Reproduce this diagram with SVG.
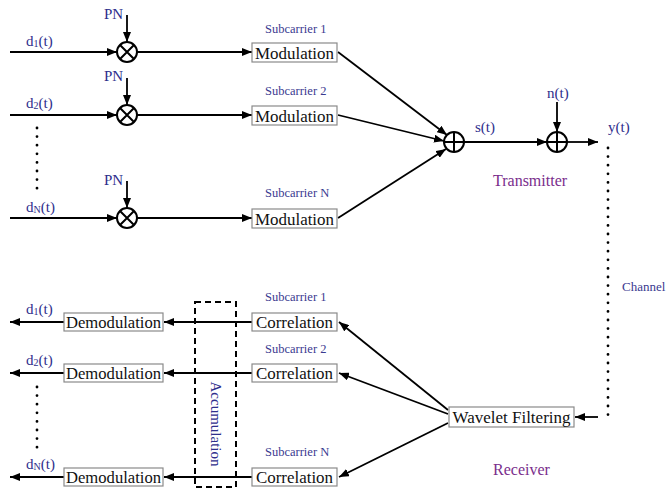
<svg xmlns="http://www.w3.org/2000/svg" width="667" height="491" viewBox="0 0 667 491">
<defs>
<marker id="ah" viewBox="0 0 10 8" refX="10" refY="4" markerWidth="10" markerHeight="8" markerUnits="userSpaceOnUse" orient="auto">
<path d="M0,0 L10,4 L0,8 Z" fill="#000"/>
</marker>
<style>
.ln{stroke:#000;stroke-width:1.8;fill:none;marker-end:url(#ah)}
.box{fill:#fff;stroke:#8a8a8a;stroke-width:1.2}
.bt{font-family:"Liberation Serif","Times New Roman",serif;font-size:17px;fill:#111;text-anchor:middle}
.lb{font-family:"Liberation Serif","Times New Roman",serif;font-size:15px;fill:#2e2e8c}
.sc{font-family:"Liberation Serif","Times New Roman",serif;font-size:12.5px;fill:#3a3a90}
.pu{font-family:"Liberation Serif","Times New Roman",serif;font-size:16px;fill:#7a2e8c}
.op{fill:#fff;stroke:#000;stroke-width:2}
.dot{stroke:#000;stroke-width:2.8;stroke-linecap:round;stroke-dasharray:0 8.6;fill:none}
.sub{font-size:10px}
</style>
</defs>

<g id="connectors">
<!-- inputs -->
<line class="ln" x1="10" y1="52" x2="117" y2="52"/>
<line class="ln" x1="10" y1="115" x2="117" y2="115"/>
<line class="ln" x1="10" y1="218" x2="117" y2="218"/>
<!-- PN -->
<line class="ln" x1="127" y1="15" x2="127" y2="42"/>
<line class="ln" x1="127" y1="78" x2="127" y2="105"/>
<line class="ln" x1="127" y1="181" x2="127" y2="208"/>
<!-- to modulation -->
<line class="ln" x1="137" y1="52" x2="252" y2="52"/>
<line class="ln" x1="137" y1="115" x2="252" y2="115"/>
<line class="ln" x1="137" y1="218" x2="252" y2="218"/>
<!-- to sum -->
<line class="ln" x1="338" y1="52" x2="447" y2="135"/>
<line class="ln" x1="338" y1="115" x2="444" y2="141"/>
<line class="ln" x1="338" y1="218" x2="446" y2="149"/>
<line class="ln" x1="464" y1="142" x2="547" y2="142"/>
<line class="ln" x1="557" y1="102" x2="557" y2="132"/>
<line class="ln" x1="567" y1="142" x2="598" y2="142"/>
<!-- channel -->
<line class="dot" x1="608" y1="148" x2="608" y2="415"/>
<line class="ln" x1="598" y1="417" x2="575" y2="417"/>
<!-- wavelet to correlation -->
<line class="ln" x1="448" y1="410" x2="339" y2="322"/>
<line class="ln" x1="448" y1="414" x2="339" y2="373"/>
<line class="ln" x1="448" y1="423" x2="339" y2="477"/>
<!-- correlation to demod -->
<line class="ln" x1="252" y1="322" x2="164" y2="322"/>
<line class="ln" x1="252" y1="373" x2="164" y2="373"/>
<line class="ln" x1="252" y1="477" x2="164" y2="477"/>
<!-- outputs -->
<line class="ln" x1="64" y1="322" x2="10" y2="322"/>
<line class="ln" x1="64" y1="373" x2="10" y2="373"/>
<line class="ln" x1="64" y1="477" x2="10" y2="477"/>
<!-- ellipsis dots -->
<line class="dot" x1="37" y1="128" x2="37" y2="191"/>
<line class="dot" x1="37" y1="387" x2="37" y2="450"/>
</g>

<g id="mult1"><circle class="op" cx="127" cy="52" r="10"/><path d="M120,45 L134,59 M134,45 L120,59" stroke="#000" stroke-width="2"/></g>
<g id="mult2"><circle class="op" cx="127" cy="115" r="10"/><path d="M120,108 L134,122 M134,108 L120,122" stroke="#000" stroke-width="2"/></g>
<g id="multN"><circle class="op" cx="127" cy="218" r="10"/><path d="M120,211 L134,225 M134,211 L120,225" stroke="#000" stroke-width="2"/></g>
<g id="sum"><circle class="op" cx="454" cy="142" r="10"/><path d="M444,142 L464,142 M454,132 L454,152" stroke="#000" stroke-width="2"/></g>
<g id="noise-add"><circle class="op" cx="557" cy="142" r="10"/><path d="M547,142 L567,142 M557,132 L557,152" stroke="#000" stroke-width="2"/></g>

<g id="mod1"><rect class="box" x="252" y="43" width="85" height="19"/><text class="bt" x="294.5" y="58.5" textLength="79" lengthAdjust="spacingAndGlyphs">Modulation</text></g>
<g id="mod2"><rect class="box" x="252" y="106" width="85" height="19"/><text class="bt" x="294.5" y="121.5" textLength="79" lengthAdjust="spacingAndGlyphs">Modulation</text></g>
<g id="modN"><rect class="box" x="252" y="209" width="85" height="19"/><text class="bt" x="294.5" y="224.5" textLength="79" lengthAdjust="spacingAndGlyphs">Modulation</text></g>

<g id="corr1"><rect class="box" x="252" y="313" width="85" height="18"/><text class="bt" x="294.5" y="328" textLength="77" lengthAdjust="spacingAndGlyphs">Correlation</text></g>
<g id="corr2"><rect class="box" x="252" y="364" width="85" height="18"/><text class="bt" x="294.5" y="379" textLength="77" lengthAdjust="spacingAndGlyphs">Correlation</text></g>
<g id="corrN"><rect class="box" x="252" y="468" width="85" height="18"/><text class="bt" x="294.5" y="483" textLength="77" lengthAdjust="spacingAndGlyphs">Correlation</text></g>

<g id="demod1"><rect class="box" x="64" y="313" width="99" height="18"/><text class="bt" x="113.5" y="328" textLength="95" lengthAdjust="spacingAndGlyphs">Demodulation</text></g>
<g id="demod2"><rect class="box" x="64" y="364" width="99" height="18"/><text class="bt" x="113.5" y="379" textLength="95" lengthAdjust="spacingAndGlyphs">Demodulation</text></g>
<g id="demodN"><rect class="box" x="64" y="468" width="99" height="18"/><text class="bt" x="113.5" y="483" textLength="95" lengthAdjust="spacingAndGlyphs">Demodulation</text></g>

<g id="wavelet"><rect class="box" x="449" y="407" width="125" height="20"/><text class="bt" x="511.5" y="423" textLength="118" lengthAdjust="spacingAndGlyphs">Wavelet Filtering</text></g>

<g id="accumulation">
<rect x="195" y="302" width="41" height="185" fill="none" stroke="#000" stroke-width="2" stroke-dasharray="6 4"/>
<text class="lb" transform="translate(211,424) rotate(90)" text-anchor="middle" style="font-size:15px">Accumulation</text>
</g>

<g id="labels">
<text class="lb" x="26" y="46">d<tspan class="sub" dy="1">1</tspan><tspan dy="-1">(t)</tspan></text>
<text class="lb" x="26" y="108">d<tspan class="sub" dy="1">2</tspan><tspan dy="-1">(t)</tspan></text>
<text class="lb" x="26" y="212">d<tspan class="sub" dy="1">N</tspan><tspan dy="-1">(t)</tspan></text>
<text class="lb" x="104" y="19">PN</text>
<text class="lb" x="104" y="81">PN</text>
<text class="lb" x="104" y="185">PN</text>
<text class="sc" x="265" y="33">Subcarrier 1</text>
<text class="sc" x="265" y="95">Subcarrier 2</text>
<text class="sc" x="265" y="197">Subcarrier N</text>
<text class="lb" x="475" y="132">s(t)</text>
<text class="lb" x="547" y="98">n(t)</text>
<text class="lb" x="608" y="132">y(t)</text>
<text class="pu" x="493" y="186">Transmitter</text>
<text class="sc" x="622" y="291" style="font-size:13px">Channel</text>
<text class="sc" x="265" y="301">Subcarrier 1</text>
<text class="sc" x="265" y="353">Subcarrier 2</text>
<text class="sc" x="265" y="456">Subcarrier N</text>
<text class="lb" x="26" y="314">d<tspan class="sub" dy="1">1</tspan><tspan dy="-1">(t)</tspan></text>
<text class="lb" x="26" y="365">d<tspan class="sub" dy="1">2</tspan><tspan dy="-1">(t)</tspan></text>
<text class="lb" x="26" y="469">d<tspan class="sub" dy="1">N</tspan><tspan dy="-1">(t)</tspan></text>
<text class="pu" x="493" y="475">Receiver</text>
</g>
</svg>
